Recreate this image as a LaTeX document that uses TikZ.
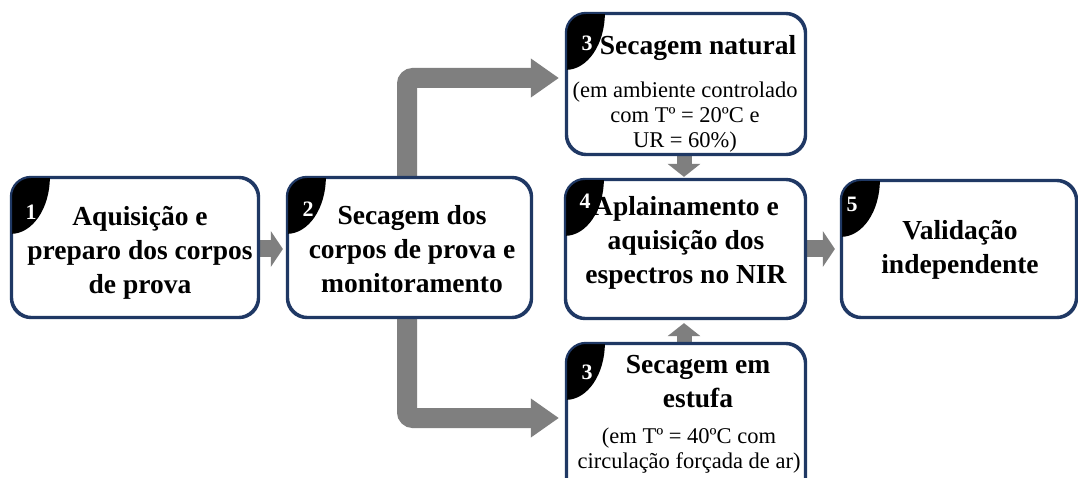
\documentclass[tikz,border=0pt]{standalone}
\usepackage{fontspec}
\setmainfont{Liberation Serif}
\usetikzlibrary{arrows.meta,calc,backgrounds}
\definecolor{navy}{HTML}{1F3864}
\definecolor{arrowgray}{HTML}{7F7F7F}
\newcommand{\stepbadge}[4]{%
  \begin{scope}
    \clip[rounded corners=20pt] (#1.south west) rectangle (#1.north east);
    \fill[black] (#1.north west) ellipse [x radius=39pt, y radius=57pt];
  \end{scope}
  \draw[boxline] (#1.south west) rectangle (#1.north east);
  \node[digit] (#1d) at (#3,#4) {#2};
}
\begin{document}
\begin{tikzpicture}[x=1pt,y=-1pt,
  boxline/.style={draw=navy, line width=2.2pt, rounded corners=20pt},
  stepbox/.style={boxline, fill=white, inner sep=0pt},
  digit/.style={text=white, font=\fontsize{22}{22}\selectfont\bfseries, inner sep=0pt},
  title/.style={align=center, font=\fontsize{27.5}{34}\selectfont\bfseries, inner sep=0pt},
  sub/.style={align=center, font=\fontsize{22.5}{25}\selectfont, inner sep=0pt},
  smallarrow/.style={draw=arrowgray, line width=17pt, -{Triangle[width=35pt,length=12pt]}},
  vsmallarrow/.style={draw=arrowgray, line width=15pt, -{Triangle[width=32pt,length=13pt]}},
  elbowarrow/.style={draw=arrowgray, line width=20pt, rounded corners=6pt, -{Triangle[width=37pt,length=28pt]}}
]
\clip (0,0) rectangle (1078,478);
\useasboundingbox (0,0) rectangle (1078,478);

% boxes
\node[stepbox, minimum width=246pt, minimum height=139pt] (b1) at (135,247.5) {};
\node[stepbox, minimum width=243pt, minimum height=139pt] (b2) at (409.5,247.5) {};
\node[stepbox, minimum width=238pt, minimum height=140pt] (t3) at (686,84) {};
\node[stepbox, minimum width=239pt, minimum height=138pt] (b4) at (685.5,249) {};
\node[stepbox, minimum width=234pt, minimum height=136pt] (b5) at (959,249) {};
\node[stepbox, minimum width=238pt, minimum height=156pt] (bt3) at (686,422) {};

% badges
\stepbadge{b1}{1}{31}{212}
\stepbadge{b2}{2}{308}{209}
\stepbadge{t3}{3}{587}{43}
\stepbadge{b4}{4}{585}{201}
\stepbadge{b5}{5}{852}{204}
\stepbadge{bt3}{3}{587}{372}

% texts
\node[title] (b1t) at (140,253) {Aquisição e\\preparo dos corpos\\de prova};
\node[title] (b2t) at (412,249) {Secagem dos\\corpos de prova e\\monitoramento};
\node[title] (t3t) at (698,48) {Secagem natural};
\node[sub] (t3s) at (685,117) {(em ambiente controlado\\com Tº = 20ºC e\\UR = 60\%)};
\node[title] (b4t) at (686,243) {Aplainamento e\\aquisição dos\\espectros no NIR};
\node[title] (b5t) at (960,250) {Validação\\independente};
\node[title] (bt3t) at (698,382) {Secagem em\\estufa};
\node[sub] (bt3s) at (689,451) {(em Tº = 40ºC com\\circulação forçada de ar)};

% arrows
\begin{scope}[on background layer]
\fill[white] (0,0) rectangle (1078,478);
\draw[smallarrow] ($(b1.east)+(1,1.5)$) -- ($(b2.west)+(-4,1.5)$);
\draw[smallarrow] ($(b4.east)+(1,0)$) -- ($(b5.west)+(-6,0)$);
\draw[vsmallarrow] ($(t3.south)+(-2,0)$) -- ($(b4.north)+(-1.5,-2)$);
\draw[vsmallarrow] ($(bt3.north)+(-2,0)$) -- ($(b4.south)+(-1.5,4)$);
\draw[elbowarrow] ($(b2.north)+(-2.5,0)$) |- ($(t3.west)+(-7,-6)$);
\draw[elbowarrow] ($(b2.south)+(-2.5,0)$) |- ($(bt3.west)+(-7,-4)$);
\end{scope}
\end{tikzpicture}
\end{document}
